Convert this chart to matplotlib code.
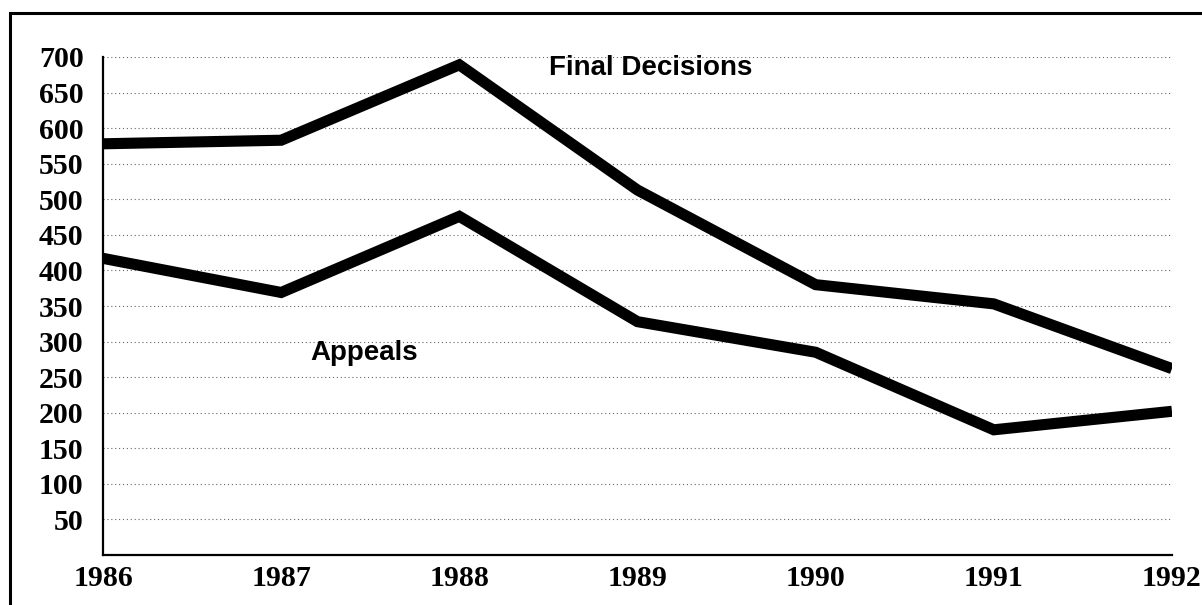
import matplotlib.pyplot as plt
from matplotlib.patches import Rectangle

# Data
years = [1986, 1987, 1988, 1989, 1990, 1991, 1992]
final_decisions = [578, 583, 689, 513, 380, 353, 262]
appeals = [417, 369, 476, 328, 285, 176, 202]
y_ticks = [50, 100, 150, 200, 250, 300, 350, 400, 450, 500, 550, 600, 650, 700]

fig = plt.figure(figsize=(12.02, 6.05), dpi=100)
ax = fig.add_axes([0.0857, 0.0826, 0.975 - 0.0857, 0.9058 - 0.0826])

# Lines
ax.plot(years, final_decisions, color='black', linewidth=8,
        solid_joinstyle='miter', solid_capstyle='butt')
ax.plot(years, appeals, color='black', linewidth=8,
        solid_joinstyle='miter', solid_capstyle='butt')

# Series labels
ax.text(1988.0 + (650 - 459) / 178.2, 689 - 4, 'Final Decisions', fontsize=20,
        family='Liberation Sans', fontweight='bold', ha='center', va='center')
ax.text(1987.0 + (364 - 281) / 178.2, 284, 'Appeals', fontsize=20,
        family='Liberation Sans', fontweight='bold', ha='center', va='center')

# Axes styling
ax.set_xlim(1986, 1992)
ax.set_ylim(0, 700)
ax.set_xticks(years)
ax.set_xticklabels([str(y) for y in years])
ax.set_yticks(y_ticks)
ax.set_yticklabels([str(v) for v in y_ticks])
for lbl in ax.get_xticklabels() + ax.get_yticklabels():
    lbl.set_fontfamily('Liberation Serif')
    lbl.set_fontweight('bold')
    lbl.set_fontsize(21.5)
ax.tick_params(axis='y', length=0, pad=14)
ax.tick_params(axis='x', length=0, pad=7)

ax.grid(axis='y', linestyle=(0, (1, 2.5)), color='#666666', linewidth=0.8)
ax.set_axisbelow(True)
ax.spines['top'].set_visible(False)
ax.spines['right'].set_visible(False)
ax.spines['left'].set_linewidth(1.6)
ax.spines['bottom'].set_linewidth(1.6)

# Outer frame of the scanned page
frame = Rectangle((10 / 1202, -0.05), 1.2, 1 - 13 / 605 + 0.05,
                  transform=fig.transFigure, fill=False,
                  edgecolor='black', linewidth=2.2)
fig.add_artist(frame)

fig.savefig('out.png', dpi=100)
